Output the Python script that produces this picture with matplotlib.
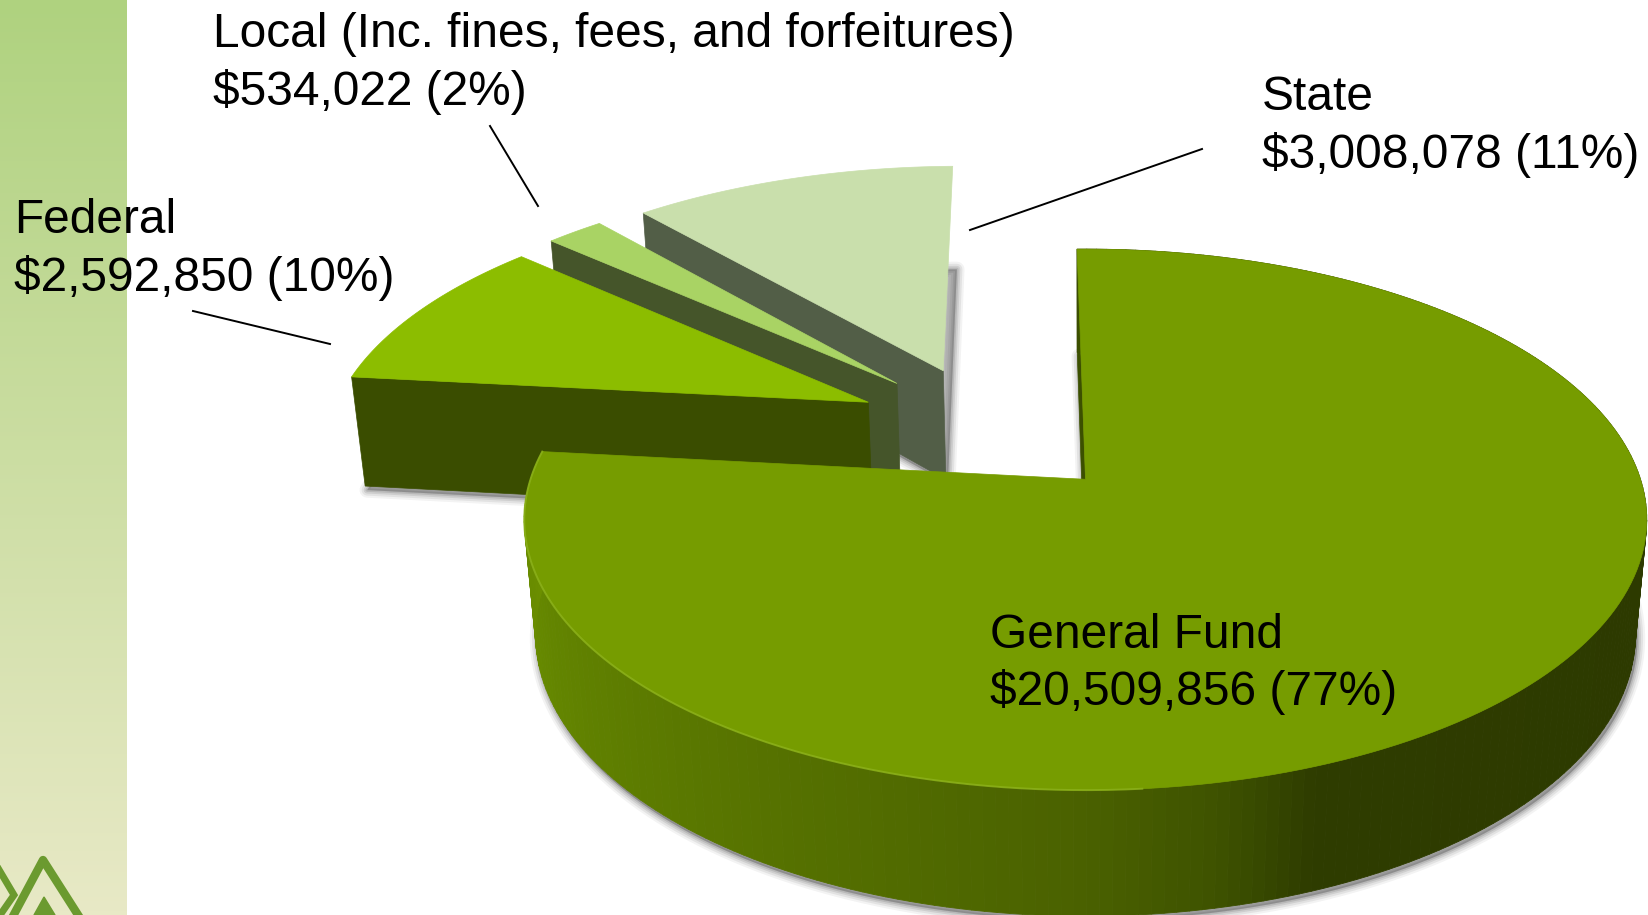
import numpy as np
import matplotlib
matplotlib.use("Agg")
import matplotlib.pyplot as plt
from matplotlib.collections import PolyCollection
from matplotlib.patches import Polygon

plt.rcParams["font.family"] = ["Liberation Sans", "DejaVu Sans"]

# pie data, clockwise from the top
sources = ["General Fund", "State", "Local", "Federal"]
amounts = [20509856, 3008078, 534022, 2592850]

label_line1 = ["General Fund", "State", "Local (Inc. fines, fees, and forfeitures)", "Federal"]
label_line2 = ["$20,509,856 (77%)", "$3,008,078 (11%)", "$534,022 (2%)", "$2,592,850 (10%)"]

# style / layout
top_cols = ["#769c00", "#c9dfac", "#a9d364", "#8cbd00"]
face_cols = ["#3c5000", "#525e47", "#45552a", "#3a4d00"]
explode = [(0, 0), (-0.273, 0.437), (-0.359, 0.383), (-0.409, 0.3045)]
label_xy = [(990, 648, 705), (1262, 110, 168), (213, 47, 105), (14, 233, 291)]
leaders = [((490, 126), (538, 206)), ((1202, 149), (970, 230)), ((193, 311), (330, 344))]

CX, CY = 1085.5, 479.3
A, B, D = 555.0, 264.5, 116.0
K, M = 0.149, 0.02
START = -1.0


def project(u, v, z=0.0):
    # simple perspective: far side and lower plane get smaller
    s = 1 / (1 + K * v + M * z)
    return CX + A * u * s, CY - B * v * s + D * z * s


def rim(ox, oy, th, z=0.0):
    r = np.radians(th)
    return project(ox + np.sin(r), oy + np.cos(r), z)


def sector(ox, oy, t0, t1, z=0.0):
    ts = np.linspace(t0, t1, 200)
    xs, ys = rim(ox, oy, ts, z)
    ax0, ay0 = project(ox, oy, z)
    return np.column_stack([np.r_[ax0, xs], np.r_[ay0, ys]])


def wall_color(th):
    stops = [-5, 110, 159, 168, 180, 215, 250, 280]
    cols = np.array([matplotlib.colors.to_rgb(c) for c in
                     ["#2d3a00", "#2d3a00", "#2e3c00", "#3e5200", "#4a6100", "#587500", "#658800", "#6f9200"]])
    return [np.interp(th, stops, cols[:, i]) for i in range(3)]


fig = plt.figure(figsize=(16.48, 9.15), dpi=100)
ax = fig.add_axes([0, 0, 1, 1])

# left band
grad = np.linspace(0, 1, 256)[:, None, None]
c0 = np.array(matplotlib.colors.to_rgb("#afd27f"))
c1 = np.array(matplotlib.colors.to_rgb("#e8e9c6"))
ax.imshow(c0 + (c1 - c0) * grad, extent=[0, 127, 915, 0], aspect="auto", zorder=0)

# logo
logo = "#6b9a2f"
ax.plot([12, 43, 80], [918, 860, 918], color=logo, lw=6, solid_joinstyle="round", zorder=1)
ax.plot([-2, 14, -2], [868, 895, 918], color=logo, lw=5, solid_joinstyle="miter", zorder=1)
ax.add_patch(Polygon([(44, 897), (34, 915), (55, 915)], color=logo, zorder=1))

spans = 360 * np.array(amounts) / np.sum(amounts)
# ring order on the picture is GF, Federal, Local, State going clockwise
ring = [0, 3, 2, 1]
theta = {}
t = START
for i in ring:
    theta[i] = (t, t + spans[i])
    t += spans[i]

# soft shadows under everything
for i in ring:
    t0, t1 = theta[i]
    ox, oy = explode[i]
    poly = sector(ox, oy, t0, t1, 1.0) + [2, 4]
    for lw, al in [(11, 0.07), (8, 0.10), (5, 0.14), (2.5, 0.18)]:
        ax.add_patch(Polygon(poly, closed=True, fc="#555555", ec="#555555", lw=lw, alpha=al,
                             joinstyle="round", zorder=2))

# back to front
for n, i in enumerate([1, 2, 3, 0]):
    t0, t1 = theta[i]
    ox, oy = explode[i]
    zo = 3 + n
    if i == 0:
        # outer wall in strips so the colour can change round the rim
        ts = np.linspace(t0, t1, 240)
        quads, cols = [], []
        for a0, a1 in zip(ts[:-1], ts[1:]):
            p = [rim(ox, oy, a0), rim(ox, oy, a1), rim(ox, oy, a1, 1.0), rim(ox, oy, a0, 1.0)]
            quads.append(p)
            cols.append(wall_color((a0 + a1) / 2))
        ax.add_collection(PolyCollection(quads, facecolors=cols, edgecolors=cols, lw=0.6, zorder=zo))
    # cut face
    face = [project(ox, oy), rim(ox, oy, t0), rim(ox, oy, t0, 1.0), project(ox, oy, 1.0)]
    ax.add_patch(Polygon(face, closed=True, fc=face_cols[i], ec=face_cols[i], lw=0.5, zorder=zo))
    # top
    ax.add_patch(Polygon(sector(ox, oy, t0, t1), closed=True, fc=top_cols[i], ec=top_cols[i],
                         lw=0.5, zorder=zo))

# light edge on the front of the big slice
xs, ys = rim(0, 0, np.linspace(175, theta[0][1], 200))
ax.plot(xs, ys, color="#8db21c", lw=1.4, alpha=0.8, zorder=8)

for (p0, p1) in leaders:
    ax.plot([p0[0], p1[0]], [p0[1], p1[1]], color="black", lw=1.4, zorder=9)

for (x, y1, y2), l1, l2 in zip(label_xy, label_line1, label_line2):
    ax.text(x, y1, l1, fontsize=34.5, color="black", va="baseline", ha="left", zorder=10)
    ax.text(x, y2, l2, fontsize=34.5, color="black", va="baseline", ha="left", zorder=10)

ax.set_xlim(0, 1648)
ax.set_ylim(915, 0)
ax.axis("off")
fig.savefig("out.png", dpi=100, facecolor="white")
